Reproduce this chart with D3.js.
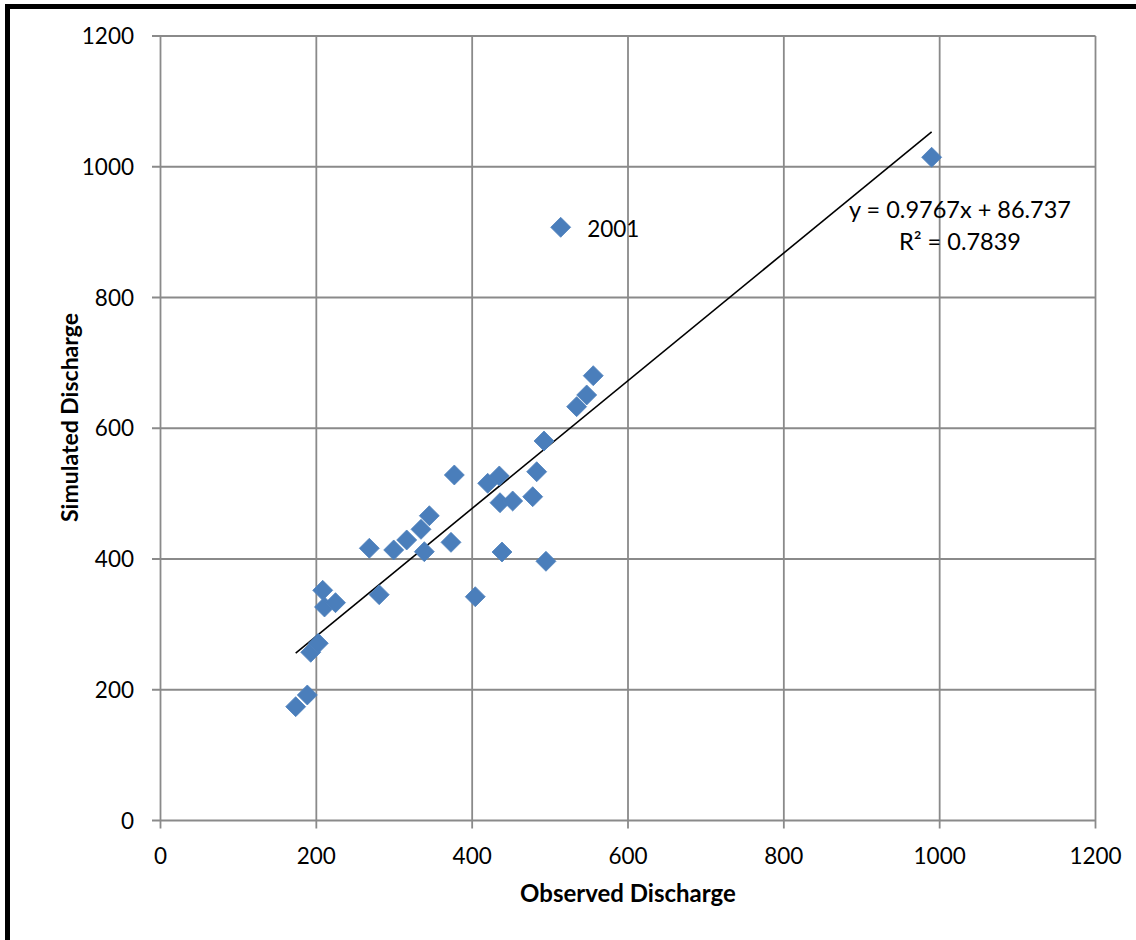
<!DOCTYPE html>
<html>
<head>
<meta charset="utf-8">
<script src="https://cdn.jsdelivr.net/npm/d3@7"></script>
<style>
  html, body { margin: 0; padding: 0; background: #fff; }
  svg { display: block; font-family: Lato, "Open Sans", sans-serif; }
</style>
</head>
<body>
<svg id="chart" width="1136" height="940"></svg>
<script>
// Annual observed vs simulated discharge
const observed = [173.5, 188.4, 192.8, 202.5, 208.2, 210.5, 224.6, 268.0, 280.7, 299.3,
                  316.0, 334.3, 338.6, 345.0, 372.8, 377.1, 404.0, 419.9, 434.8, 435.7,
                  438.3, 452.0, 477.7, 482.8, 492.2, 494.7, 513.6, 534.1, 547.0, 555.4, 989.7];
const simulated = [174.1, 192.0, 257.3, 271.1, 352.1, 326.6, 333.2, 416.4, 345.4, 413.8,
                   429.1, 445.4, 411.2, 466.2, 425.5, 528.5, 342.3, 515.8, 527.0, 486.1,
                   410.7, 488.7, 495.3, 533.5, 580.5, 396.5, 907.4, 633.0, 650.9, 680.4, 1014.5];
// only the outlying year carries a label
const pointLabels = ["", "", "", "", "", "", "", "", "", "", "", "", "", "", "", "",
                     "", "", "", "", "", "", "", "", "", "", "2001", "", "", "", ""];

const xTicks = [0, 200, 400, 600, 800, 1000, 1200];
const yTicks = [0, 200, 400, 600, 800, 1000, 1200];

// linear trendline
const slope = 0.9767;
const intercept = 86.737;
const rSquared = 0.7839;

const svg = d3.select("#chart");
const W = 1136, H = 940;
const plot = { left: 160.5, right: 1095.5, top: 36, bottom: 820.5 };

const x = d3.scaleLinear().domain([0, 1200]).range([plot.left, plot.right]);
const y = d3.scaleLinear().domain([0, 1200]).range([plot.bottom, plot.top]);

const gridColor = "#8a8a8a";
const fontSize = 22.5;

// frame edges along the top and left
svg.append("rect").attr("x", 5).attr("y", 4).attr("width", W - 5).attr("height", 5).attr("fill", "#000");
svg.append("rect").attr("x", 5).attr("y", 4).attr("width", 5).attr("height", H - 4).attr("fill", "#000");

// grid
const grid = svg.append("g");
grid.selectAll("line.v").data(xTicks).join("line")
  .attr("x1", d => x(d)).attr("x2", d => x(d))
  .attr("y1", plot.top).attr("y2", plot.bottom + 8)
  .attr("stroke", gridColor).attr("stroke-width", 1.8);
grid.selectAll("line.h").data(yTicks).join("line")
  .attr("y1", d => y(d)).attr("y2", d => y(d))
  .attr("x1", plot.left - 8.5).attr("x2", plot.right)
  .attr("stroke", gridColor).attr("stroke-width", 1.8);

// tick labels
svg.append("g").selectAll("text").data(yTicks).join("text")
  .attr("x", 134).attr("y", d => y(d) + 8)
  .attr("text-anchor", "end")
  .attr("font-size", fontSize).attr("fill", "#000")
  .text(d => d);
svg.append("g").selectAll("text").data(xTicks).join("text")
  .attr("x", d => x(d)).attr("y", 863.5)
  .attr("text-anchor", "middle")
  .attr("font-size", fontSize).attr("fill", "#000")
  .text(d => d);

// axis titles
svg.append("text")
  .attr("x", 628).attr("y", 902)
  .attr("text-anchor", "middle").attr("font-weight", "bold")
  .attr("font-size", 24).attr("fill", "#000")
  .text("Observed Discharge");
svg.append("text")
  .attr("transform", "translate(77.5,417.5) rotate(-90)")
  .attr("text-anchor", "middle").attr("font-weight", "bold")
  .attr("font-size", 23).attr("fill", "#000")
  .text("Simulated Discharge");

// trendline over the observed range
const xExt = d3.extent(observed);
const line = d3.line().x(d => x(d)).y(d => y(slope * d + intercept));
svg.append("path")
  .attr("d", line(xExt))
  .attr("fill", "none").attr("stroke", "#000").attr("stroke-width", 1.6);

// points as diamonds
const pts = observed.map((o, i) => ({ o, s: simulated[i], label: pointLabels[i] }));
const r = 10;
svg.append("g").selectAll("path").data(pts).join("path")
  .attr("transform", d => `translate(${x(d.o)},${y(d.s)})`)
  .attr("d", `M0,${-r}L${r},0L0,${r}L${-r},0Z`)
  .attr("fill", "#4a7ebb").attr("stroke", "#4f81bd").attr("stroke-width", 0.8);

svg.append("g").selectAll("text").data(pts.filter(d => d.label)).join("text")
  .attr("x", d => x(d.o) + 26.5).attr("y", d => y(d.s) + 10)
  .attr("font-size", fontSize).attr("fill", "#000")
  .text(d => d.label);

// trendline equation
const eq = svg.append("text").attr("text-anchor", "middle")
  .attr("font-size", 23.5).attr("fill", "#000");
eq.append("tspan").attr("x", 960).attr("y", 218)
  .text(`y = ${slope}x + ${intercept}`);
eq.append("tspan").attr("x", 960).attr("y", 249.5)
  .text(`R² = ${rSquared}`);
</script>
</body>
</html>
